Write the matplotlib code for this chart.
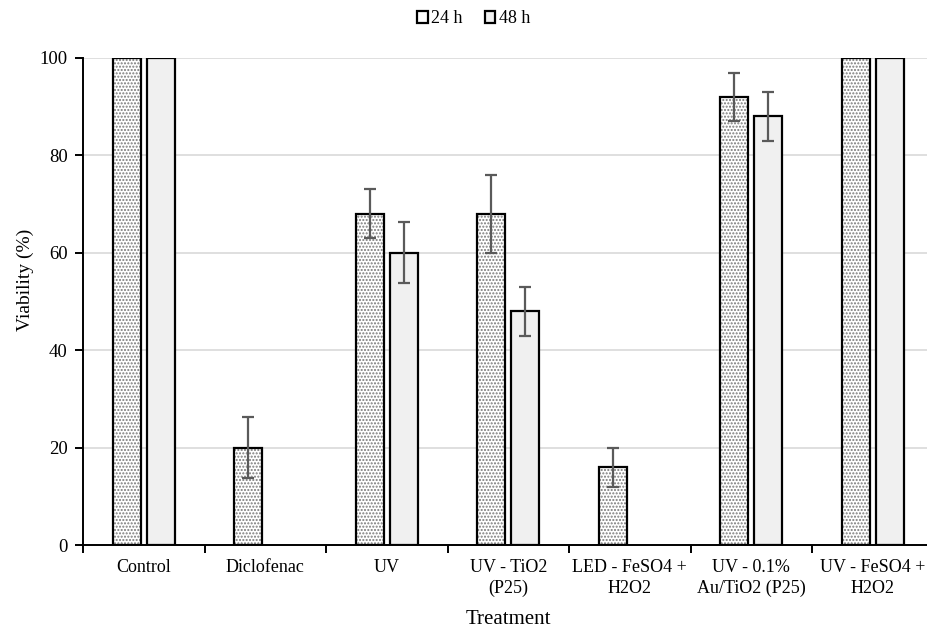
import numpy as np
import matplotlib.pyplot as plt
from matplotlib.patches import Patch

plt.rcParams['font.family'] = ['Liberation Serif', 'DejaVu Serif']

# Cell viability after each treatment
treatments = ["Control", "Diclofenac", "UV", "UV - TiO2\n(P25)",
              "LED - FeSO4 +\nH2O2", "UV - 0.1%\nAu/TiO2 (P25)",
              "UV - FeSO4 +\nH2O2"]
viab_24h = [100, 20, 68, 68, 16, 92, 100]
err_24h = [0, 6.3, 5, 8, 4, 5, 0]
viab_48h = [100, 0, 60, 48, 0, 88, 100]
err_48h = [0, 0, 6.3, 5, 0, 5, 0]

x = np.arange(len(treatments))
w = 0.23
off = 0.14

fig = plt.figure(figsize=(9.27, 6.3), dpi=100)
ax = fig.add_axes([83/927, 85/630, 850.5/927, 487/630])

ax.set_ylim(0, 100)
ax.set_xlim(-0.5, len(treatments) - 0.5)
ax.set_yticks(range(0, 101, 20))
ax.yaxis.grid(True, color='#d9d9d9', lw=1.2)
ax.set_axisbelow(True)

# 24 h bars: grey dot hatch with a black outline drawn on top
h24 = [v if v > 0 else np.nan for v in viab_24h]
h48 = [v if v > 0 else np.nan for v in viab_48h]
ax.bar(x - off, h24, w, color='white', edgecolor='#7a7a7a', hatch='.....', lw=0)
ax.bar(x - off, h24, w, color='none', edgecolor='black', lw=1.6)
ax.bar(x + off, h48, w, color='#f0f0f0', edgecolor='black', lw=1.6)

for xs, vals, errs in [(x - off, viab_24h, err_24h), (x + off, viab_48h, err_48h)]:
    for xi, v, e in zip(xs, vals, errs):
        if e > 0:
            ax.errorbar(xi, v, yerr=e, fmt='none', ecolor='#5a5a5a',
                        elinewidth=1.6, capsize=4.5, capthick=1.6)

for s in ['top', 'right']:
    ax.spines[s].set_visible(False)
for s in ['left', 'bottom']:
    ax.spines[s].set_linewidth(1.4)

ax.set_xticks(x)
ax.set_xticklabels(treatments, fontsize=13, linespacing=1.3)
ax.tick_params(axis='x', which='major', length=0, pad=10)
ax.set_xticks(np.arange(-0.5, len(treatments) + 0.5), minor=True)
ax.tick_params(axis='x', which='minor', length=6, width=1.4, direction='out')
ax.tick_params(axis='y', labelsize=13.5, length=6, width=1.4, direction='out', pad=5)

ax.set_ylabel("Viability (%)", fontsize=14)
ax.yaxis.set_label_coords(-0.058, 0.544)
ax.set_xlabel("Treatment", fontsize=15, labelpad=9)

handles = [Patch(facecolor='white', edgecolor='black', lw=1.6),
           Patch(facecolor='#f0f0f0', edgecolor='black', lw=1.6)]
fig.legend(handles, ["24 h", "48 h"], loc='center', bbox_to_anchor=(0.511, 0.97),
           ncol=2, frameon=False, fontsize=13, handlelength=0.6,
           handleheight=0.6, handletextpad=0.2, columnspacing=1.2)

fig.savefig("out.png", dpi=100)
